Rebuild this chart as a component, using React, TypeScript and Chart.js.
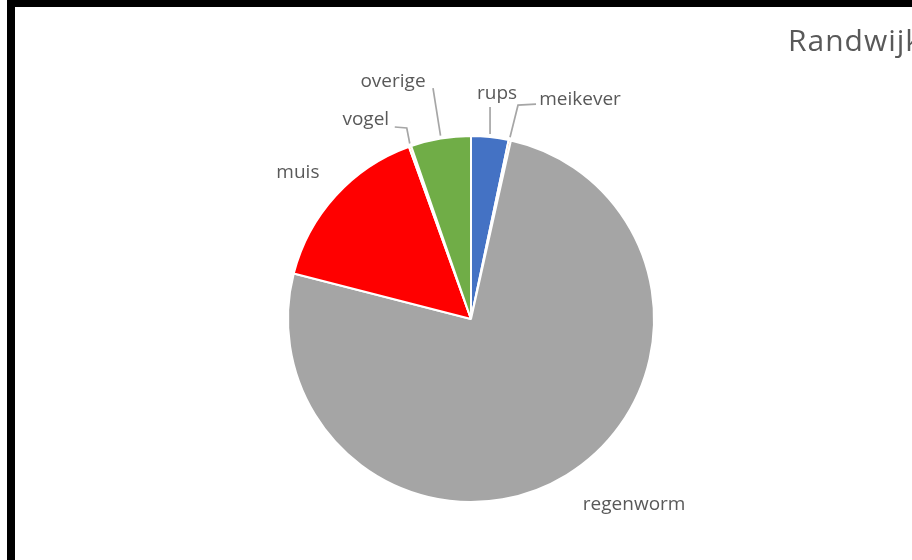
import React, { useEffect, useRef } from "react";
import { Chart, registerables } from "chart.js";

Chart.register(...registerables);

const categories = ["rups", "meikever", "regenworm", "muis", "vogel", "overige"];
const shares = [3.3, 0.2, 75.5, 15.5, 0.2, 5.3];
const sliceColors = ["#4472C4", "#ED7D31", "#A5A5A5", "#FF0000", "#FFC000", "#70AD47"];
const chartTitle = "Randwijk";

// label placement relative to the slice's outer edge point (mid angle)
const labelLayout: Record<string, { text: [number, number]; leader?: [number, number][] }> = {
  rups: { text: [7, -37], leader: [[0, -29]] },
  meikever: { text: [70, -34], leader: [[8, -34], [26, -35]] },
  regenworm: { text: [67, 34] },
  muis: { text: [-37, -17] },
  vogel: { text: [-44, -20], leader: [[-3, -17.5], [-15, -18.5]] },
  overige: { text: [-47.5, -51], leader: [[-7.5, -49.5]] },
};

const labelPlugin = {
  id: "pieLabels",
  afterDraw(chart: any) {
    const ctx = chart.ctx;
    const meta = chart.getDatasetMeta(0);
    ctx.save();
    meta.data.forEach((arc: any, i: number) => {
      const name = categories[i];
      const lay = labelLayout[name];
      if (!lay) return;
      const { x, y, startAngle, endAngle, outerRadius } = arc.getProps(
        ["x", "y", "startAngle", "endAngle", "outerRadius"],
        true
      );
      const mid = (startAngle + endAngle) / 2;
      const ex = x + Math.cos(mid) * (outerRadius + 1);
      const ey = y + Math.sin(mid) * (outerRadius + 1);
      if (lay.leader) {
        ctx.beginPath();
        ctx.strokeStyle = "#A6A6A6";
        ctx.lineWidth = 1.7;
        ctx.moveTo(ex, ey - 2);
        lay.leader.forEach(([dx, dy]) => ctx.lineTo(ex + dx, ey + dy));
        ctx.stroke();
      }
      ctx.fillStyle = "#595959";
      ctx.font = '19px "Open Sans"';
      ctx.textAlign = "center";
      ctx.textBaseline = "alphabetic";
      ctx.fillText(name, ex + lay.text[0], ey + lay.text[1]);
    });
    ctx.fillStyle = "#595959";
    ctx.font = '30px "Open Sans"';
    ctx.textAlign = "left";
    ctx.textBaseline = "alphabetic";
    try {
      (ctx as any).letterSpacing = "1px";
    } catch (e) {}
    ctx.fillText(chartTitle, 788, 51);
    ctx.restore();
  },
};

export default function App() {
  const ref = useRef<HTMLCanvasElement>(null);
  useEffect(() => {
    if (!ref.current) return;
    const chart = new Chart(ref.current, {
      type: "pie",
      data: {
        labels: categories,
        datasets: [
          {
            data: shares,
            backgroundColor: sliceColors,
            borderColor: "#FFFFFF",
            borderWidth: 2,
          },
        ],
      },
      options: {
        animation: false,
        responsive: false,
        devicePixelRatio: 1,
        layout: { padding: { top: 135, bottom: 57, left: 200, right: 170 } },
        plugins: {
          legend: { display: false },
          tooltip: { enabled: false },
          title: { display: false },
        },
      },
      plugins: [labelPlugin],
    });
    return () => chart.destroy();
  }, []);

  useEffect(() => {
    document.body.style.margin = "0";
  }, []);

  return (
    <div style={{ position: "relative", width: 912, height: 560, overflow: "hidden", background: "#fff" }}>
      <canvas ref={ref} width={912} height={560} style={{ display: "block", position: "absolute", left: 0, top: 0 }} />
      <div
        style={{
          position: "absolute",
          left: 7,
          top: 0,
          width: 905,
          height: 560,
          boxSizing: "border-box",
          borderLeft: "8px solid #000",
          borderTop: "7px solid #000",
          pointerEvents: "none",
        }}
      />
    </div>
  );
}
